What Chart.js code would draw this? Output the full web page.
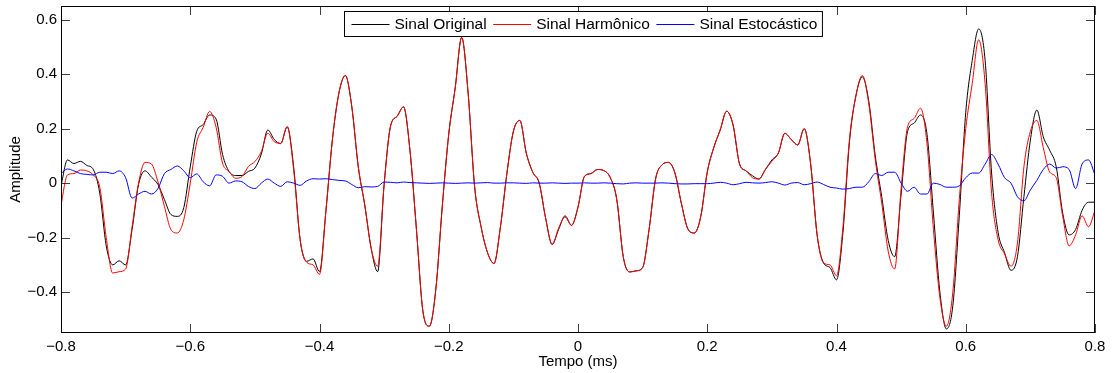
<!DOCTYPE html>
<html>
<head>
<meta charset="utf-8">
<script src="https://cdn.jsdelivr.net/npm/chart.js@4.4.0/dist/chart.umd.min.js"></script>
<style>
  html, body { margin: 0; padding: 0; background: #fff; }
  #wrap { width: 1115px; height: 373px; }
</style>
</head>
<body>
<div id="wrap"><canvas id="grafico" width="1115" height="373"></canvas></div>
<script>
// tempo em ms, uma amostra a cada 0.01 ms
const tempo = Array.from({ length: 161 }, (_, i) => Math.round((-0.8 + i * 0.01) * 100) / 100);

const sinalOriginal = [
  -0.01, 0.085, 0.072, 0.08, 0.065, 0.05, -0.037, -0.23, -0.30, -0.285,
  -0.30, -0.17, -0.005, 0.045, 0.022, -0.005, -0.06, -0.115, -0.122, -0.09,
  0.06, 0.19, 0.215, 0.25, 0.235, 0.105, 0.043, 0.028, 0.028, 0.043,
  0.055, 0.107, 0.195, 0.16, 0.145, 0.207, 0.06, -0.207, -0.287, -0.278,
  -0.325, -0.1, 0.16, 0.33, 0.395, 0.28, 0.06, -0.08, -0.24, -0.325,
  -0.005, 0.21, 0.245, 0.28, 0.12, -0.17, -0.47, -0.525, -0.39, -0.085,
  0.18, 0.35, 0.535, 0.33, -0.012, -0.16, -0.255, -0.295, -0.16, 0.036,
  0.19, 0.23, 0.11, 0.04, 0.0, -0.13, -0.225, -0.17, -0.12, -0.155,
  -0.088, 0.025, 0.035, 0.05, 0.046, 0.02, -0.06, -0.27, -0.326, -0.322,
  -0.31, -0.17, 0.015, 0.067, 0.076, 0.037, -0.075, -0.168, -0.183, -0.122,
  0.04, 0.13, 0.195, 0.264, 0.213, 0.07, 0.045, 0.027, 0.015, 0.05,
  0.085, 0.11, 0.183, 0.16, 0.14, 0.2, 0.07, -0.19, -0.293, -0.31,
  -0.355, -0.18, 0.15, 0.32, 0.39, 0.30, 0.10, -0.05, -0.21, -0.27,
  -0.04, 0.19, 0.22, 0.25, 0.18, -0.11, -0.40, -0.535, -0.45, -0.12,
  0.26, 0.45, 0.566, 0.45, 0.037, -0.18, -0.255, -0.32, -0.27, -0.05,
  0.158, 0.268, 0.17, 0.12, 0.06, -0.11, -0.19, -0.17, -0.1, -0.07,
  -0.07
];

const sinalHarmonico = [
  -0.08, 0.03, 0.035, 0.048, 0.045, 0.03, -0.015, -0.2, -0.33, -0.325,
  -0.315, -0.16, 0.0, 0.076, 0.07, 0.005, -0.085, -0.17, -0.183, -0.134,
  0.0, 0.15, 0.205, 0.263, 0.205, 0.073, 0.043, 0.018, 0.024, 0.061,
  0.079, 0.116, 0.183, 0.152, 0.146, 0.207, 0.049, -0.207, -0.29, -0.3,
  -0.335, -0.1, 0.16, 0.33, 0.395, 0.28, 0.06, -0.08, -0.24, -0.305,
  -0.005, 0.21, 0.245, 0.28, 0.12, -0.17, -0.47, -0.525, -0.39, -0.085,
  0.18, 0.35, 0.535, 0.33, -0.012, -0.16, -0.255, -0.295, -0.16, 0.036,
  0.19, 0.23, 0.11, 0.04, 0.0, -0.13, -0.225, -0.165, -0.125, -0.155,
  -0.088, 0.025, 0.035, 0.05, 0.046, 0.02, -0.06, -0.27, -0.326, -0.322,
  -0.31, -0.17, 0.015, 0.067, 0.076, 0.037, -0.075, -0.168, -0.183, -0.122,
  0.04, 0.13, 0.195, 0.264, 0.213, 0.07, 0.045, 0.02, 0.015, 0.05,
  0.08, 0.11, 0.183, 0.16, 0.14, 0.2, 0.07, -0.19, -0.293, -0.30,
  -0.34, -0.16, 0.16, 0.32, 0.395, 0.29, 0.085, -0.073, -0.25, -0.315,
  -0.02, 0.207, 0.237, 0.275, 0.146, -0.17, -0.42, -0.525, -0.40, -0.06,
  0.2, 0.365, 0.526, 0.365, -0.037, -0.207, -0.26, -0.305, -0.22, 0.06,
  0.19, 0.23, 0.13, 0.04, 0.02, -0.122, -0.23, -0.19, -0.12, -0.16,
  -0.1
];

const sinalEstocastico = [
  0.035, 0.052, 0.045, 0.035, 0.032, 0.03, 0.04, 0.04, 0.035, 0.045,
  0.02, -0.055, -0.04, -0.03, -0.04, -0.02, 0.035, 0.05, 0.063, 0.045,
  0.02, 0.034, 0.005, -0.01, 0.03, 0.025, 0.0, 0.008, 0.005, -0.012,
  -0.02, 0.0, 0.015, 0.0, -0.012, 0.005, 0.0, -0.008, 0.008, 0.016,
  0.015, 0.016, 0.013, 0.01, 0.008, -0.005, -0.017, -0.013, -0.014, -0.012,
  0.004, 0.003, 0.001, 0.004, 0.002, 0.001, 0.0, -0.001, 0.0, 0.001,
  0.0, -0.001, 0.0, 0.001, 0.0, 0.001, 0.002, 0.0, 0.0, 0.001,
  0.001, 0.0, -0.001, 0.001, 0.0, 0.0, 0.001, 0.0, -0.001, 0.0,
  0.0, 0.001, 0.0, 0.0, 0.001, 0.0, -0.002, -0.003, 0.0, 0.001,
  0.0, 0.0, 0.0, 0.001, 0.0, -0.002, -0.003, -0.003, -0.002, -0.002,
  -0.002, 0.0, 0.003, 0.0, -0.006, -0.002, 0.003, 0.001, 0.0, 0.002,
  0.005, 0.0, -0.007, 0.0, 0.002, -0.006, -0.002, 0.004, -0.005, -0.015,
  -0.018, -0.022, -0.02, -0.015, -0.015, 0.005, 0.035, 0.028, 0.04, 0.04,
  0.0, -0.03, -0.015, -0.04, -0.04, 0.0, -0.005, -0.015, -0.015, -0.01,
  0.02, 0.037, 0.037, 0.07, 0.105, 0.07, 0.02, 0.0, -0.05, -0.065,
  -0.025, 0.01, 0.05, 0.07, 0.055, 0.06, 0.05, -0.02, 0.07, 0.085,
  0.03
];

const ticksX = [-0.8, -0.6, -0.4, -0.2, 0, 0.2, 0.4, 0.6, 0.8];
const ticksY = [-0.4, -0.2, 0, 0.2, 0.4, 0.6];

const FONTE = '"Liberation Sans", Arial, Helvetica, sans-serif';

const pontos = serie => tempo.map((t, i) => ({ x: t, y: serie[i] }));
const rotulo = v => (v < 0 ? '\u2212' + Math.abs(v) : String(v));

// caixa dos eixos, marcas para dentro e legenda no topo
const moldura = {
  id: 'moldura',
  afterDatasetsDraw(chart) {
    const { ctx, chartArea: a, scales } = chart;
    ctx.save();
    ctx.strokeStyle = 'rgba(0,0,0,0.75)';
    ctx.lineWidth = 1;
    ctx.beginPath();
    ticksX.forEach(v => {
      const px = Math.round(scales.x.getPixelForValue(v)) + 0.5;
      ctx.moveTo(px, a.bottom); ctx.lineTo(px, a.bottom - 9);
      ctx.moveTo(px, a.top); ctx.lineTo(px, a.top + 9);
    });
    ticksY.forEach(v => {
      const py = Math.round(scales.y.getPixelForValue(v)) + 0.5;
      ctx.moveTo(a.left, py); ctx.lineTo(a.left + 9, py);
      ctx.moveTo(a.right, py); ctx.lineTo(a.right - 9, py);
    });
    ctx.stroke();

    ctx.strokeStyle = '#000';
    ctx.strokeRect(a.left + 0.5, a.top + 0.5, a.right - a.left - 1, a.bottom - a.top - 1);

    // legenda
    ctx.font = '15.5px ' + FONTE;
    const itens = chart.data.datasets.map(d => ({ texto: d.label, cor: d.borderColor }));
    const linha = 38, gap = 5, sep = 6.5, margemEsq = 7, margemDir = 5;
    let largura = margemEsq + margemDir;
    itens.forEach((it, i) => {
      it.w = ctx.measureText(it.texto).width;
      largura += linha + gap + it.w + (i < itens.length - 1 ? sep : 0);
    });
    const cx = (a.left + a.right) / 2 + 5;
    const x0 = Math.round(cx - largura / 2) + 0.5;
    const y0 = 11.5, alt = 25;
    ctx.fillStyle = '#fff';
    ctx.fillRect(x0, y0, largura, alt);
    ctx.strokeStyle = '#000';
    ctx.strokeRect(x0, y0, largura, alt);
    let x = x0 + margemEsq;
    const ym = y0 + alt / 2;
    ctx.textBaseline = 'middle';
    itens.forEach(it => {
      ctx.strokeStyle = it.cor;
      ctx.beginPath();
      ctx.moveTo(x, Math.round(ym) + 0.5);
      ctx.lineTo(x + linha, Math.round(ym) + 0.5);
      ctx.stroke();
      ctx.fillStyle = '#000';
      ctx.fillText(it.texto, x + linha + gap, ym + 0.5);
      x += linha + gap + it.w + sep;
    });
    ctx.restore();
  }
};

const semPadding = scale => {
  scale.paddingTop = 0; scale.paddingBottom = 0;
  scale.paddingLeft = 0; scale.paddingRight = 0;
};

new Chart(document.getElementById('grafico'), {
  type: 'line',
  data: {
    datasets: [
      { label: 'Sinal Original', data: pontos(sinalOriginal), borderColor: '#000000', order: 3 },
      { label: 'Sinal Harmônico', data: pontos(sinalHarmonico), borderColor: '#ff0000', order: 2 },
      { label: 'Sinal Estocástico', data: pontos(sinalEstocastico), borderColor: '#0000ff', order: 1 }
    ]
  },
  options: {
    responsive: false,
    devicePixelRatio: 1,
    animation: false,
    events: [],
    layout: { padding: { top: 6, right: 20, left: 0, bottom: 0 } },
    elements: {
      point: { radius: 0 },
      line: { borderWidth: 1, cubicInterpolationMode: 'monotone' }
    },
    plugins: {
      legend: { display: false },
      tooltip: { enabled: false }
    },
    scales: {
      x: {
        type: 'linear',
        min: -0.8,
        max: 0.8,
        afterBuildTicks: s => { s.ticks = ticksX.map(v => ({ value: v })); },
        afterFit: s => { s.height = 40; semPadding(s); },
        grid: { display: false, drawTicks: false },
        border: { display: false },
        ticks: {
          padding: 5,
          maxRotation: 0,
          color: '#000',
          font: { family: FONTE, size: 15 },
          callback: v => rotulo(v)
        },
        title: {
          display: true,
          text: 'Tempo (ms)',
          color: '#000',
          font: { family: FONTE, size: 15 },
          padding: { top: 0, bottom: 2 }
        }
      },
      y: {
        type: 'linear',
        min: -0.55,
        max: 0.65,
        afterBuildTicks: s => { s.ticks = ticksY.map(v => ({ value: v })); },
        afterFit: s => { s.width = 61; semPadding(s); },
        grid: { display: false, drawTicks: false },
        border: { display: false },
        ticks: {
          padding: 4,
          color: '#000',
          font: { family: FONTE, size: 15 },
          callback: v => rotulo(v)
        },
        title: {
          display: true,
          text: 'Amplitude',
          color: '#000',
          font: { family: FONTE, size: 15 },
          padding: { top: 7, bottom: 0 }
        }
      }
    }
  },
  plugins: [moldura]
});
</script>
</body>
</html>
